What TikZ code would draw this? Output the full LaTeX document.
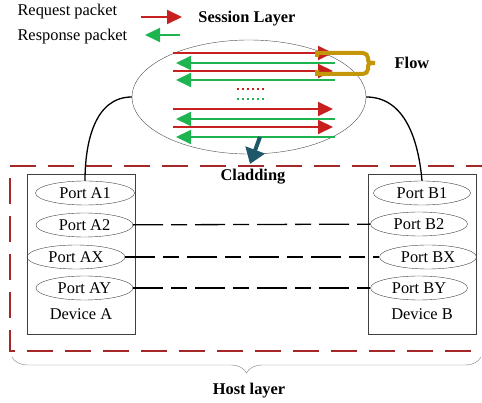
\documentclass[tikz,border=0pt]{standalone}
\usepackage{fontspec}
\setmainfont{Liberation Serif}
\usetikzlibrary{arrows.meta,shapes.geometric,decorations.pathreplacing}
\definecolor{reqred}{RGB}{200,32,30}
\definecolor{respgreen}{RGB}{30,180,80}
\definecolor{flowgold}{RGB}{196,150,10}
\definecolor{cladteal}{RGB}{30,88,104}
\definecolor{hostred}{RGB}{165,40,40}

\begin{document}
\begin{tikzpicture}[x=1pt, y=-1pt,
      font=\fontsize{16.4}{19}\selectfont,
      port/.style ={ellipse, draw=black!75, thin, inner sep = 0pt, minimum width=97pt, minimum height=24pt},
      device/.style ={rectangle, draw=black!75, thin, inner sep = 0pt, minimum width=108pt, minimum height=160pt},
      request/.style ={reqred, line width=2pt, -{Triangle[length=15pt,width=14pt]}},
      response/.style ={respgreen, line width=2pt, -{Triangle[length=15pt,width=14pt]}},
      link/.style ={line width=1.3pt, dash pattern=on 30pt off 8pt on 16pt off 8pt},
      title/.style ={font=\fontsize{16.4}{19}\selectfont\bfseries}]
   \useasboundingbox (0,0) rectangle (482,403);
   \clip (0,0) rectangle (482,403);

   % legend
   \node[anchor=west] (req)  at (14,12)  {Request packet};
   \node[anchor=west] (resp) at (14,37)  {Response packet};
   \node[title] (session-title) at (247,19) {Session Layer};
   \draw[request]  (141,17) -- (182,17);
   \draw[response] (180,35) -- (145,35);

   % session layer
   \node[ellipse, draw=black!70, thin, minimum width=234pt, minimum height=114pt] (session) at (249,97) {};
   \foreach \y in {53,71,109,127}
      \draw[request] (173,\y) -- (333,\y);
   \foreach \y in {63,80,119,137}
      \draw[response] (335,\y) -- (176,\y);
   \draw[reqred, line width=2pt, dash pattern=on 2pt off 3pt] (237,89) -- (265,89);
   \draw[respgreen, line width=2pt, dash pattern=on 2pt off 3pt] (237,99) -- (265,99);

   \draw[flowgold, line width=4pt] (317,57) -- (317,53) -- (363,53) to[out=0, in=90] (368,58)
      -- (368,60) to[out=-90, in=180] (375,63) to[out=180, in=90] (368,66)
      -- (368,69) to[out=-90, in=0] (363,74) -- (317,74) -- (317,70);
   \node[title] (flow) at (412,63) {Flow};

   \draw[cladteal, line width=4pt, -{Triangle[length=15pt,width=20pt]}] (260,137) -- (250,164);
   \node[title] (cladding) at (253,177) {Cladding};

   % host layer
   \draw[hostred, line width=2.5pt, dash pattern=on 26pt off 12pt] (492,166) -- (10,166) -- (10,351) -- (492,351);

   \node[device] (devA) at (81,254)  {};
   \node[device] (devB) at (422,254) {};

   \node[port, minimum width=99pt] (A1) at (85,193)   {Port A1};
   \node[port] (A2) at (84.5,225) {Port A2};
   \node[port, minimum width=98pt] (AX) at (76,257)   {Port AX};
   \node[port] (AY) at (84.5,288) {Port AY};
   \node (devA-label) at (81,314) {Device A};

   \node[port] (B1) at (422,193) {Port B1};
   \node[port] (B2) at (419,224) {Port B2};
   \node[port] (BX) at (428,257) {Port BX};
   \node[port] (BY) at (419,288) {Port BY};
   \node (devB-label) at (422,314) {Device B};

   \draw[link] (A2) -- (B2);
   \draw[link] (AX) -- (BX);
   \draw[link] (AY) -- (BY);

   \draw[line width=1.3pt] (session.west) to[out=180, in=90] (A1.north);
   \draw[line width=1.3pt] (session.east) to[out=0, in=95] (B1.north);

   \draw[gray, thin, decorate, decoration={brace, amplitude=16pt}] (481,357) -- (12,357);
   \node[title] (host) at (249,391) {Host layer};
 \end{tikzpicture}
\end{document}
